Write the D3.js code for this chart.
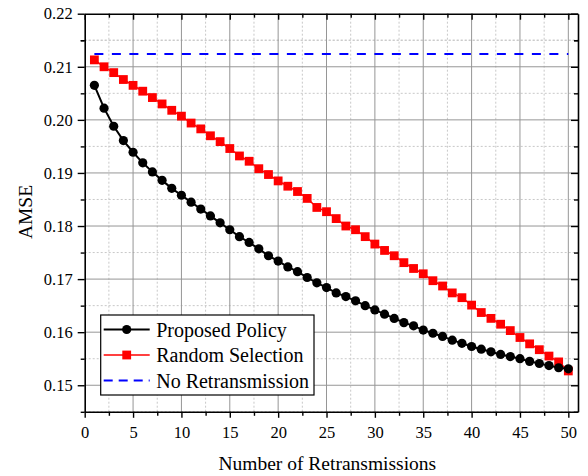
<!DOCTYPE html>
<html>
<head>
<meta charset="utf-8">
<script src="https://cdn.jsdelivr.net/npm/d3@7"></script>
<style>
    body { margin: 0; background: #fff; }
    .chart text { font-family: "Liberation Serif", "Times New Roman", serif; fill: #000; }
    .grid-major line { stroke: #969696; stroke-width: 1; }
    .grid-minor line { stroke: #c8c8c8; stroke-width: 1; stroke-dasharray: 2,2; }
</style>
</head>
<body>
<div class="chart"></div>
<script>
const retransmissions = d3.range(1, 51);

const proposedPolicy = [
    0.2065, 0.2022, 0.1988, 0.1961, 0.1939, 0.1919, 0.1902, 0.1886, 0.1871, 0.1858,
    0.1845, 0.1832, 0.1819, 0.1806, 0.1793, 0.1780, 0.1769, 0.1757, 0.1744, 0.1734,
    0.1723, 0.1714, 0.1703, 0.1693, 0.1684, 0.1674, 0.1667, 0.1659, 0.1650, 0.1642,
    0.1634, 0.1626, 0.1618, 0.1612, 0.1604, 0.1598, 0.1592, 0.1585, 0.1579, 0.1573,
    0.1568, 0.1563, 0.1558, 0.1554, 0.1550, 0.1545, 0.1541, 0.1537, 0.1533, 0.1531
];

const randomSelection = [
    0.2113, 0.2100, 0.2089, 0.2076, 0.2065, 0.2054, 0.2042, 0.2030, 0.2018, 0.2007,
    0.1994, 0.1983, 0.1970, 0.1959, 0.1946, 0.1932, 0.1922, 0.1908, 0.1897, 0.1885,
    0.1875, 0.1865, 0.1852, 0.1835, 0.1827, 0.1814, 0.1800, 0.1793, 0.1780, 0.1766,
    0.1754, 0.1744, 0.1731, 0.1720, 0.1710, 0.1697, 0.1687, 0.1674, 0.1665, 0.1651,
    0.1637, 0.1626, 0.1615, 0.1603, 0.1590, 0.1578, 0.1567, 0.1555, 0.1544, 0.1527
];

const noRetransmission = 0.2124;

const xTicks = [0, 5, 10, 15, 20, 25, 30, 35, 40, 45, 50];
const yTicks = [0.15, 0.16, 0.17, 0.18, 0.19, 0.20, 0.21, 0.22];

const legendLabels = ["Proposed Policy", "Random Selection", "No Retransmission"];

document.addEventListener("DOMContentLoaded", function () {

    const w = 588,
        h = 476,
        left = 84.7,
        right = 578,
        top = 13.7,
        bottom = 411.8,
        serif = "'Liberation Serif', 'Times New Roman', serif";

    const xScale = d3.scaleLinear()
        .domain([0, 51])
        .range([left, right]);

    const yScale = d3.scaleLinear()
        .domain([0.145, 0.22])
        .range([bottom, top]);

    const xMinor = d3.range(2.5, 51, 5);
    const yMinor = d3.range(0.145, 0.2201, 0.01).concat([0.215]);

    const svg = d3.select(".chart")
        .append("svg")
        .attr("width", w)
        .attr("height", h);

    // grid
    svg.append("g")
        .attr("class", "grid-minor")
        .selectAll("line")
        .data(xMinor)
        .enter()
        .append("line")
        .attr("x1", d => xScale(d))
        .attr("x2", d => xScale(d))
        .attr("y1", top)
        .attr("y2", bottom);
    svg.append("g")
        .attr("class", "grid-minor")
        .selectAll("line")
        .data(yMinor)
        .enter()
        .append("line")
        .attr("x1", left)
        .attr("x2", right)
        .attr("y1", d => yScale(d))
        .attr("y2", d => yScale(d));
    svg.append("g")
        .attr("class", "grid-major")
        .selectAll("line")
        .data(xTicks.slice(1))
        .enter()
        .append("line")
        .attr("x1", d => xScale(d))
        .attr("x2", d => xScale(d))
        .attr("y1", top)
        .attr("y2", bottom);
    svg.append("g")
        .attr("class", "grid-major")
        .selectAll("line")
        .data(yTicks.slice(0, -1))
        .enter()
        .append("line")
        .attr("x1", left)
        .attr("x2", right)
        .attr("y1", d => yScale(d))
        .attr("y2", d => yScale(d));

    // axes
    const xAxis = d3.axisBottom(xScale).tickValues(xTicks).tickSize(6).tickPadding(8).tickSizeOuter(0);
    const yAxis = d3.axisLeft(yScale).tickValues(yTicks).tickSize(7).tickPadding(5).tickSizeOuter(0)
        .tickFormat(d3.format(".2f"));

    const gx = svg.append("g")
        .attr("id", "x-axis")
        .attr("transform", "translate(0," + bottom + ")")
        .call(xAxis);
    const gy = svg.append("g")
        .attr("id", "y-axis")
        .attr("transform", "translate(" + left + ",0)")
        .call(yAxis);

    gx.attr("font-family", serif).selectAll("text").style("font-size", "16.5px");
    gy.attr("font-family", serif).selectAll("text").style("font-size", "16.5px");

    svg.append("g")
        .attr("transform", "translate(0," + bottom + ")")
        .call(d3.axisBottom(xScale).tickValues(xMinor).tickSize(4).tickFormat("").tickSizeOuter(0))
        .select(".domain").remove();
    svg.append("g")
        .attr("transform", "translate(" + left + ",0)")
        .call(d3.axisLeft(yScale).tickValues(yMinor).tickSize(4).tickFormat("").tickSizeOuter(0))
        .select(".domain").remove();

    // mirror axes
    svg.append("g")
        .attr("transform", "translate(0," + top + ")")
        .call(d3.axisBottom(xScale).tickValues(xTicks).tickSize(6).tickFormat("").tickSizeOuter(0));
    svg.append("g")
        .attr("transform", "translate(0," + top + ")")
        .call(d3.axisBottom(xScale).tickValues(xMinor).tickSize(4).tickFormat("").tickSizeOuter(0))
        .select(".domain").remove();
    svg.append("g")
        .attr("transform", "translate(" + right + ",0)")
        .call(d3.axisLeft(yScale).tickValues(yTicks).tickSize(7).tickFormat("").tickSizeOuter(0));
    svg.append("g")
        .attr("transform", "translate(" + right + ",0)")
        .call(d3.axisLeft(yScale).tickValues(yMinor).tickSize(4).tickFormat("").tickSizeOuter(0))
        .select(".domain").remove();

    svg.selectAll(".domain").attr("stroke", "#000").attr("stroke-width", 1.6);
    svg.selectAll(".tick line").attr("stroke", "#000").attr("stroke-width", 1.4);

    // series
    const line = d3.line()
        .x((d, i) => xScale(retransmissions[i]))
        .y(d => yScale(d));

    svg.append("line")
        .attr("x1", xScale(retransmissions[0]))
        .attr("x2", xScale(retransmissions[retransmissions.length - 1]))
        .attr("y1", yScale(noRetransmission))
        .attr("y2", yScale(noRetransmission))
        .attr("stroke", "#0000ff")
        .attr("stroke-width", 2)
        .attr("stroke-dasharray", "9,8.5");

    svg.append("path")
        .datum(randomSelection)
        .attr("d", line)
        .attr("fill", "none")
        .attr("stroke", "#ff0000")
        .attr("stroke-width", 1.5);
    svg.selectAll("rect.rs")
        .data(randomSelection)
        .enter()
        .append("rect")
        .attr("class", "rs")
        .attr("x", (d, i) => xScale(retransmissions[i]) - 4.4)
        .attr("y", d => yScale(d) - 4.4)
        .attr("width", 8.8)
        .attr("height", 8.8)
        .attr("fill", "#ff0000");

    svg.append("path")
        .datum(proposedPolicy)
        .attr("d", line)
        .attr("fill", "none")
        .attr("stroke", "#000")
        .attr("stroke-width", 2);
    svg.selectAll("circle.pp")
        .data(proposedPolicy)
        .enter()
        .append("circle")
        .attr("class", "pp")
        .attr("cx", (d, i) => xScale(retransmissions[i]))
        .attr("cy", d => yScale(d))
        .attr("r", 4.6)
        .attr("fill", "#000");

    // legend
    const legend = svg.append("g")
        .attr("transform", "translate(100.7,315)");
    legend.append("rect")
        .attr("width", 213.3)
        .attr("height", 80)
        .attr("fill", "#fff")
        .attr("stroke", "#000")
        .attr("stroke-width", 1.2);
    const rows = legend.selectAll("g")
        .data(legendLabels)
        .enter()
        .append("g")
        .attr("transform", (d, i) => "translate(0," + (14.5 + i * 25.5) + ")");
    rows.append("line")
        .attr("x1", 3)
        .attr("x2", 49)
        .attr("stroke", (d, i) => ["#000", "#ff0000", "#0000ff"][i])
        .attr("stroke-width", (d, i) => i === 1 ? 1.5 : 2)
        .attr("stroke-dasharray", (d, i) => i === 2 ? "9,6" : null);
    rows.filter((d, i) => i === 0).append("circle")
        .attr("cx", 26).attr("r", 4.6).attr("fill", "#000");
    rows.filter((d, i) => i === 1).append("rect")
        .attr("x", 26 - 4.4).attr("y", -4.4).attr("width", 8.8).attr("height", 8.8).attr("fill", "#ff0000");
    rows.append("text")
        .attr("x", 55.5)
        .attr("y", 7)
        .style("font-size", "20px")
        .text(d => d);

    // titles
    svg.append("text")
        .attr("x", (left + right) / 2 - 4)
        .attr("y", 470)
        .attr("text-anchor", "middle")
        .style("font-size", "19.5px")
        .text("Number of Retransmissions");

    svg.append("text")
        .attr("transform", "rotate(-90)")
        .attr("x", -212)
        .attr("y", 32)
        .attr("text-anchor", "middle")
        .style("font-size", "19.5px")
        .text("AMSE");
});
</script>
</body>
</html>
